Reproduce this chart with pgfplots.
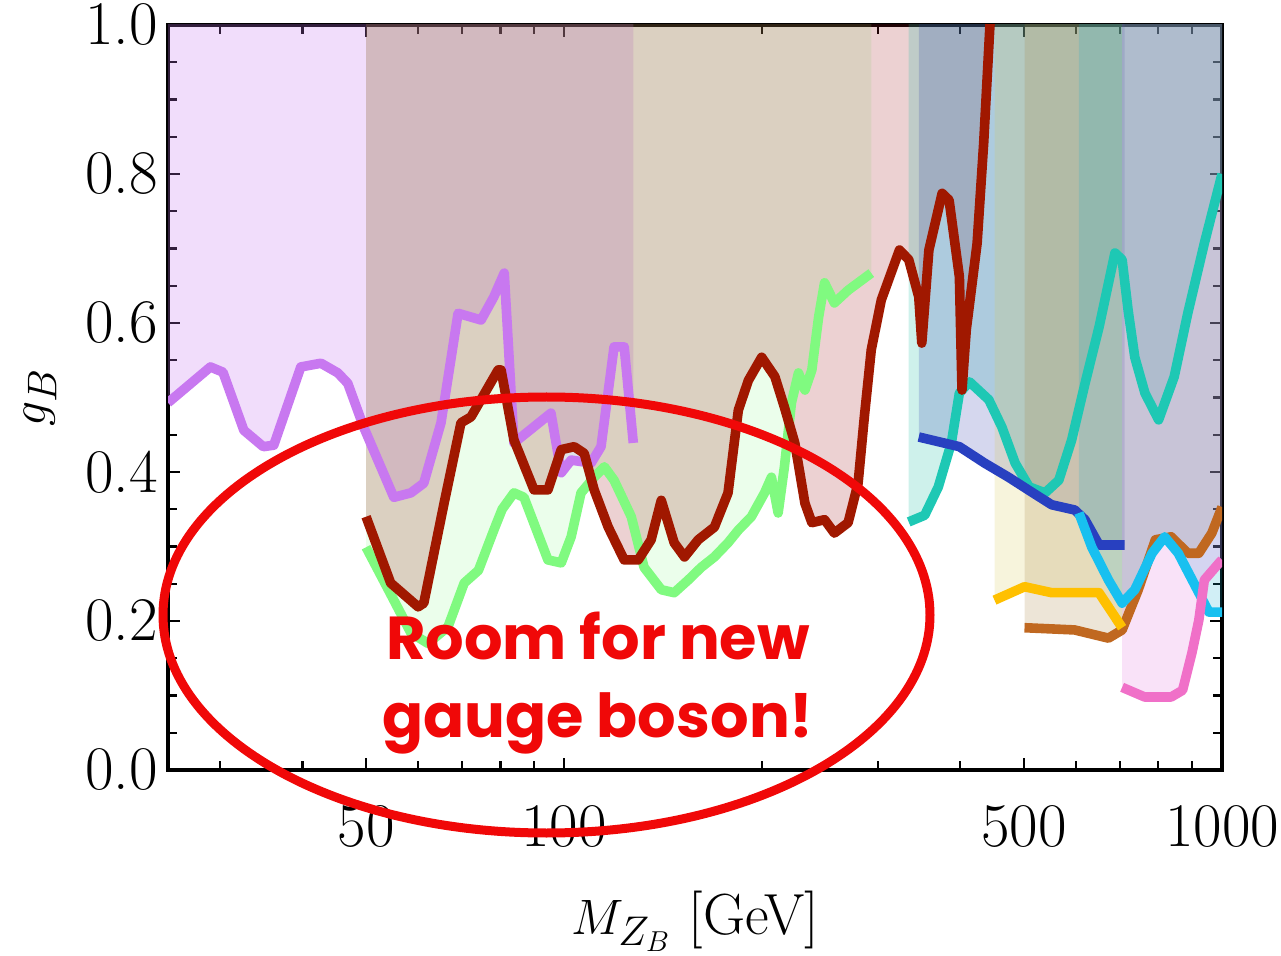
\documentclass[border=0pt]{standalone}
\usepackage{fontspec}
\usepackage{pgfplots}
\pgfplotsset{compat=1.18}
\usepackage{pgfplotstable}
\newfontfamily\annfont{Poppins}

% line colours
\definecolor{cpurple}{RGB}{200,120,240}
\definecolor{cred}{RGB}{160,24,0}
\definecolor{cgreen}{RGB}{128,250,128}
\definecolor{cteal}{RGB}{30,200,180}
\definecolor{cblue}{RGB}{40,64,192}
\definecolor{cgold}{RGB}{255,192,0}
\definecolor{cbrown}{RGB}{192,104,32}
\definecolor{clblue}{RGB}{24,192,240}
\definecolor{cpink}{RGB}{240,112,200}
% fill colours
\definecolor{fpurple}{RGB}{200,120,240}
\definecolor{fred}{RGB}{160,24,30}
\definecolor{fgreen}{RGB}{128,250,128}
\definecolor{fteal}{RGB}{30,190,165}
\definecolor{fblue}{RGB}{45,55,170}
\definecolor{fgold}{RGB}{215,200,80}
\definecolor{fbrown}{RGB}{165,124,56}
\definecolor{flblue}{RGB}{24,175,210}
\definecolor{fpink}{RGB}{225,110,220}
\definecolor{annred}{RGB}{240,8,8}

% first and last rows: top of the excluded band (y = 1.2)
\pgfplotstableread{
x y
25 1.2
25 0.493
29.0 0.541
30.3 0.534
32.6 0.456
34.9 0.434
36.2 0.436
39.8 0.541
42.7 0.546
45.3 0.533
46.9 0.519
49.6 0.460
55.1 0.366
58.5 0.372
61.2 0.385
65.0 0.466
69.0 0.613
74.8 0.604
78.2 0.635
81.1 0.667
83.9 0.439
95.5 0.479
99.0 0.399
102.5 0.416
109.9 0.412
113.8 0.434
119.1 0.568
123.4 0.568
127.4 0.439
127.4 1.2
}\tpurple

\pgfplotstableread{
x y
50 1.2
50 0.340
54.5 0.251
60.0 0.219
61.2 0.224
65.7 0.358
69.7 0.466
72.2 0.474
79.4 0.537
80.2 0.537
83.9 0.443
90.0 0.376
94.5 0.376
99.0 0.430
103.6 0.434
107.3 0.425
111.1 0.376
116.7 0.326
123.4 0.282
129.6 0.282
135.6 0.309
140.5 0.362
147.0 0.305
152.4 0.286
159.9 0.309
169.2 0.326
177.5 0.372
184.0 0.483
190.6 0.523
199.7 0.554
209.1 0.528
216.2 0.487
224.2 0.439
232.3 0.358
238.0 0.332
248.8 0.336
257.5 0.318
270.2 0.332
279.8 0.385
286.0 0.474
293.0 0.564
303.5 0.631
323.4 0.698
334.1 0.685
346.0 0.635
349.7 0.573
358.5 0.698
375.5 0.774
384.8 0.765
398.9 0.662
402.5 0.510
408.6 0.591
424.4 0.707
434.3 0.842
443.9 1.00
446.0 1.05
446.0 1.2
}\tred

\pgfplotstableread{
x y
50 1.2
50 0.299
55.1 0.228
58.5 0.184
62.1 0.170
66.6 0.192
70.5 0.251
74.1 0.268
78.2 0.322
80.5 0.350
83.9 0.372
86.9 0.366
94.5 0.282
99.0 0.278
102.5 0.313
106.1 0.372
111.1 0.393
115.1 0.407
119.1 0.389
126.5 0.340
132.3 0.272
140.5 0.242
147.0 0.238
154.4 0.255
161.6 0.272
169.2 0.286
177.5 0.305
184.0 0.322
192.6 0.340
201.7 0.372
206.6 0.393
211.5 0.345
216.2 0.407
221.6 0.493
227.1 0.533
232.3 0.510
238.0 0.537
243.7 0.608
248.8 0.654
257.5 0.627
270.2 0.644
293.0 0.667
293.0 1.2
}\tgreen

\pgfplotstableread{
x y
334 1.2
334 0.333
353.3 0.342
370.5 0.380
387.8 0.439
398.9 0.506
413.2 0.521
442.1 0.497
463.0 0.460
484.8 0.412
509.1 0.380
538.3 0.372
564.9 0.389
590.9 0.443
619.2 0.519
650.5 0.595
687.5 0.694
705 0.685
720 0.617
737 0.554
763.6 0.506
801 0.470
846 0.528
887 0.613
940 0.707
1000 0.800
1000 1.2
}\tteal

\pgfplotstableread{
x y
346 1.2
346 0.447
398.9 0.434
435.6 0.412
473.7 0.393
513.8 0.373
551.0 0.356
597.3 0.349
619 0.336
650.5 0.302
711 0.302
711 1.2
}\tblue

\pgfplotstableread{
x y
451 1.2
451 0.228
501 0.246
551 0.238
650 0.238
705 0.191
705 1.2
}\tgold

\pgfplotstableread{
x y
501 1.2
501 0.191
597 0.188
672 0.177
705 0.188
746 0.242
792 0.309
837 0.313
887 0.291
922 0.291
965 0.318
1000 0.353
1000 1.2
}\tbrown

\pgfplotstableread{
x y
606 1.2
606 0.345
634 0.299
672 0.255
705 0.224
737 0.242
783 0.291
818 0.313
858 0.291
922 0.238
955 0.212
1000 0.212
1000 1.2
}\tlblue

\pgfplotstableread{
x y
705 1.2
705 0.111
763 0.098
837 0.098
871 0.107
900 0.157
922 0.201
940 0.255
990 0.278
1000 0.282
1000 1.2
}\tpink

\begin{document}
\begin{tikzpicture}
\useasboundingbox (0,0) rectangle (640.5pt,477.5pt);
\begin{axis}[
  at={(84pt,92.5pt)}, anchor=south west,
  scale only axis, width=527pt, height=372.5pt,
  xmode=log, xmin=25, xmax=1000, ymin=0, ymax=1,
  axis line style={line width=1.7pt},
  xtick={50,100,500,1000}, xticklabels={50,100,500,1000},
  minor xtick={30,40,60,70,80,90,200,300,400,600,700,800,900},
  ytick={0,0.2,0.4,0.6,0.8,1.0},
  yticklabels={0.0,0.2,0.4,0.6,0.8,1.0},
  minor ytick={0.05,0.1,0.15,0.25,0.3,0.35,0.45,0.5,0.55,0.65,0.7,0.75,0.85,0.9,0.95},
  tick align=inside,
  major tick length=6pt, minor tick length=4.5pt,
  every tick/.style={black, line width=1.2pt},
  ticklabel style={font=\fontsize{31}{34}\selectfont},
  xticklabel style={yshift=-14pt},
  yticklabel style={inner sep=0pt, xshift=-5pt},
  xlabel={$M_{Z_B}$ [GeV]},
  ylabel={$g_B$},
  every axis x label/.style={at={(axis description cs:0.5,-0.203)}, anchor=center, font=\fontsize{29}{32}\selectfont},
  every axis y label/.style={at={(axis description cs:-0.1215,0.5)}, anchor=center, rotate=90, font=\fontsize{31}{34}\selectfont},
  clip=true,
]
% excluded regions (filled from each limit curve up to the top)
\addplot[draw=none, fill=fpurple, fill opacity=0.25] table {\tpurple};
\addplot[draw=none, fill=fgreen, fill opacity=0.16] table {\tgreen};
\addplot[draw=none, fill=fred, fill opacity=0.2] table {\tred};
\addplot[draw=none, fill=fteal, fill opacity=0.22] table {\tteal};
\addplot[draw=none, fill=fblue, fill opacity=0.2] table {\tblue};
\addplot[draw=none, fill=fgold, fill opacity=0.2] table {\tgold};
\addplot[draw=none, fill=fbrown, fill opacity=0.2] table {\tbrown};
\addplot[draw=none, fill=flblue, fill opacity=0.2] table {\tlblue};
\addplot[draw=none, fill=fpink, fill opacity=0.2] table {\tpink};
% limit curves
\pgfplotsset{limit/.style={line width=4.8pt, line join=round, line cap=butt, restrict y to domain=-1:1.1}}
\addplot[limit, cgreen] table {\tgreen};
\addplot[limit, cpurple] table {\tpurple};
\addplot[limit, cteal] table {\tteal};
\addplot[limit, cred] table {\tred};
\addplot[limit, cblue] table {\tblue};
\addplot[limit, cbrown] table {\tbrown};
\addplot[limit, cgold] table {\tgold};
\addplot[limit, clblue] table {\tlblue};
\addplot[limit, cpink] table {\tpink};
\end{axis}
% annotation
\draw[annred, line width=4.5pt] (273.25pt,170pt) ellipse [x radius=191.75pt, y radius=109pt];
\node[text=annred, font=\annfont\bfseries\fontsize{30.3}{39}\selectfont, align=center] at (299pt,136pt) {Room for new\\gauge boson!};
\end{tikzpicture}
\end{document}
